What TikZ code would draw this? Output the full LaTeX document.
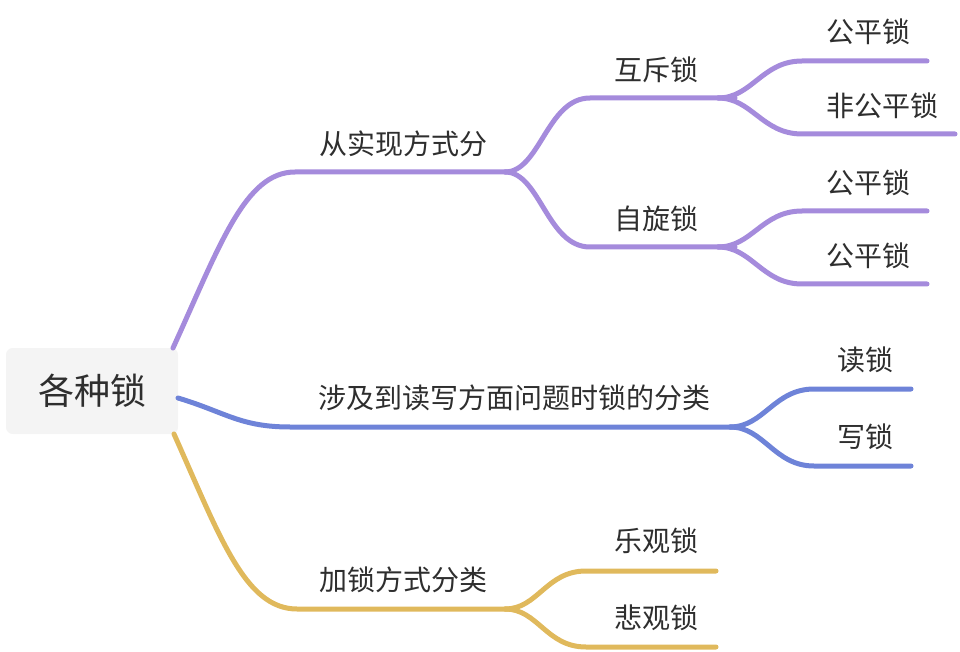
\documentclass[tikz,border=0pt]{standalone}
\usepackage{fontspec}
\setmainfont{Noto Sans CJK SC}
\definecolor{cpur}{HTML}{A58BDC}
\definecolor{cblu}{HTML}{6E83D8}
\definecolor{cyel}{HTML}{E0B95C}
\definecolor{rootbg}{HTML}{F4F4F4}
\definecolor{txt}{HTML}{2E2E2E}
\begin{document}
\begin{tikzpicture}[x=0.75pt,y=-0.75pt,
  br/.style={line width=3.75pt, line cap=round},
  lab/.style={text=txt, font=\fontsize{21}{25}\selectfont, inner sep=0pt}]
\useasboundingbox (0,0) rectangle (960,652);
% root
\node[fill=rootbg, rounded corners=5pt, minimum width=129pt, minimum height=64.5pt, inner sep=0pt,
      text=txt, font=\fontsize{27}{32}\selectfont] (root) at (92,391) {各种锁};
% anchor coordinates
\coordinate (rp) at (173,348);
\coordinate (rb) at (178,398);
\coordinate (ry) at (174,434);
\coordinate (a) at (510,172);
\coordinate (a1) at (735,98);
\coordinate (a2) at (735,247);
\coordinate (a11) at (927,61);
\coordinate (a12) at (955,134);
\coordinate (a21) at (927,211);
\coordinate (a22) at (927,284);
\coordinate (b) at (735,427);
\coordinate (b1) at (911,389);
\coordinate (b2) at (911,466);
\coordinate (c) at (510,609);
\coordinate (c1) at (716,571);
\coordinate (c2) at (716,647);
% purple
\draw[br, cpur] (rp) .. controls (220,245) and (245,172) .. (295,172) -- (a);
\draw[br, cpur] (505,172) .. controls (540,172) and (547,98) .. (590,98) -- (a1);
\draw[br, cpur] (505,172) .. controls (540,172) and (547,247) .. (590,247) -- (a2);
\draw[br, cpur] (718,98) .. controls (752,98) and (762,61) .. (802,61) -- (a11);
\draw[br, cpur] (718,98) .. controls (752,98) and (762,134) .. (802,134) -- (a12);
\draw[br, cpur] (718,247) .. controls (752,247) and (762,211) .. (802,211) -- (a21);
\draw[br, cpur] (718,247) .. controls (752,247) and (762,284) .. (802,284) -- (a22);
% blue
\draw[br, cblu] (rb) .. controls (225,412) and (240,427) .. (290,427) -- (b);
\draw[br, cblu] (730,427) .. controls (764,427) and (774,389) .. (814,389) -- (b1);
\draw[br, cblu] (730,427) .. controls (764,427) and (774,466) .. (814,466) -- (b2);
% yellow
\draw[br, cyel] (ry) .. controls (220,537) and (245,609) .. (297,609) -- (c);
\draw[br, cyel] (505,609) .. controls (538,609) and (546,571) .. (586,571) -- (c1);
\draw[br, cyel] (505,609) .. controls (538,609) and (546,647) .. (586,647) -- (c2);
% labels
\node[lab] (la) at (403,144) {从实现方式分};
\node[lab] (la1) at (656,70) {互斥锁};
\node[lab] (la2) at (656,219) {自旋锁};
\node[lab] (la11) at (868,32) {公平锁};
\node[lab] (la12) at (882,106) {非公平锁};
\node[lab] (la21) at (868,183) {公平锁};
\node[lab] (la22) at (868,256) {公平锁};
\node[lab] (lb) at (514,398) {涉及到读写方面问题时锁的分类};
\node[lab] (lb1) at (865,360) {读锁};
\node[lab] (lb2) at (865,437) {写锁};
\node[lab] (lc) at (403,580) {加锁方式分类};
\node[lab] (lc1) at (656,541) {乐观锁};
\node[lab] (lc2) at (656,618) {悲观锁};
\end{tikzpicture}
\end{document}
